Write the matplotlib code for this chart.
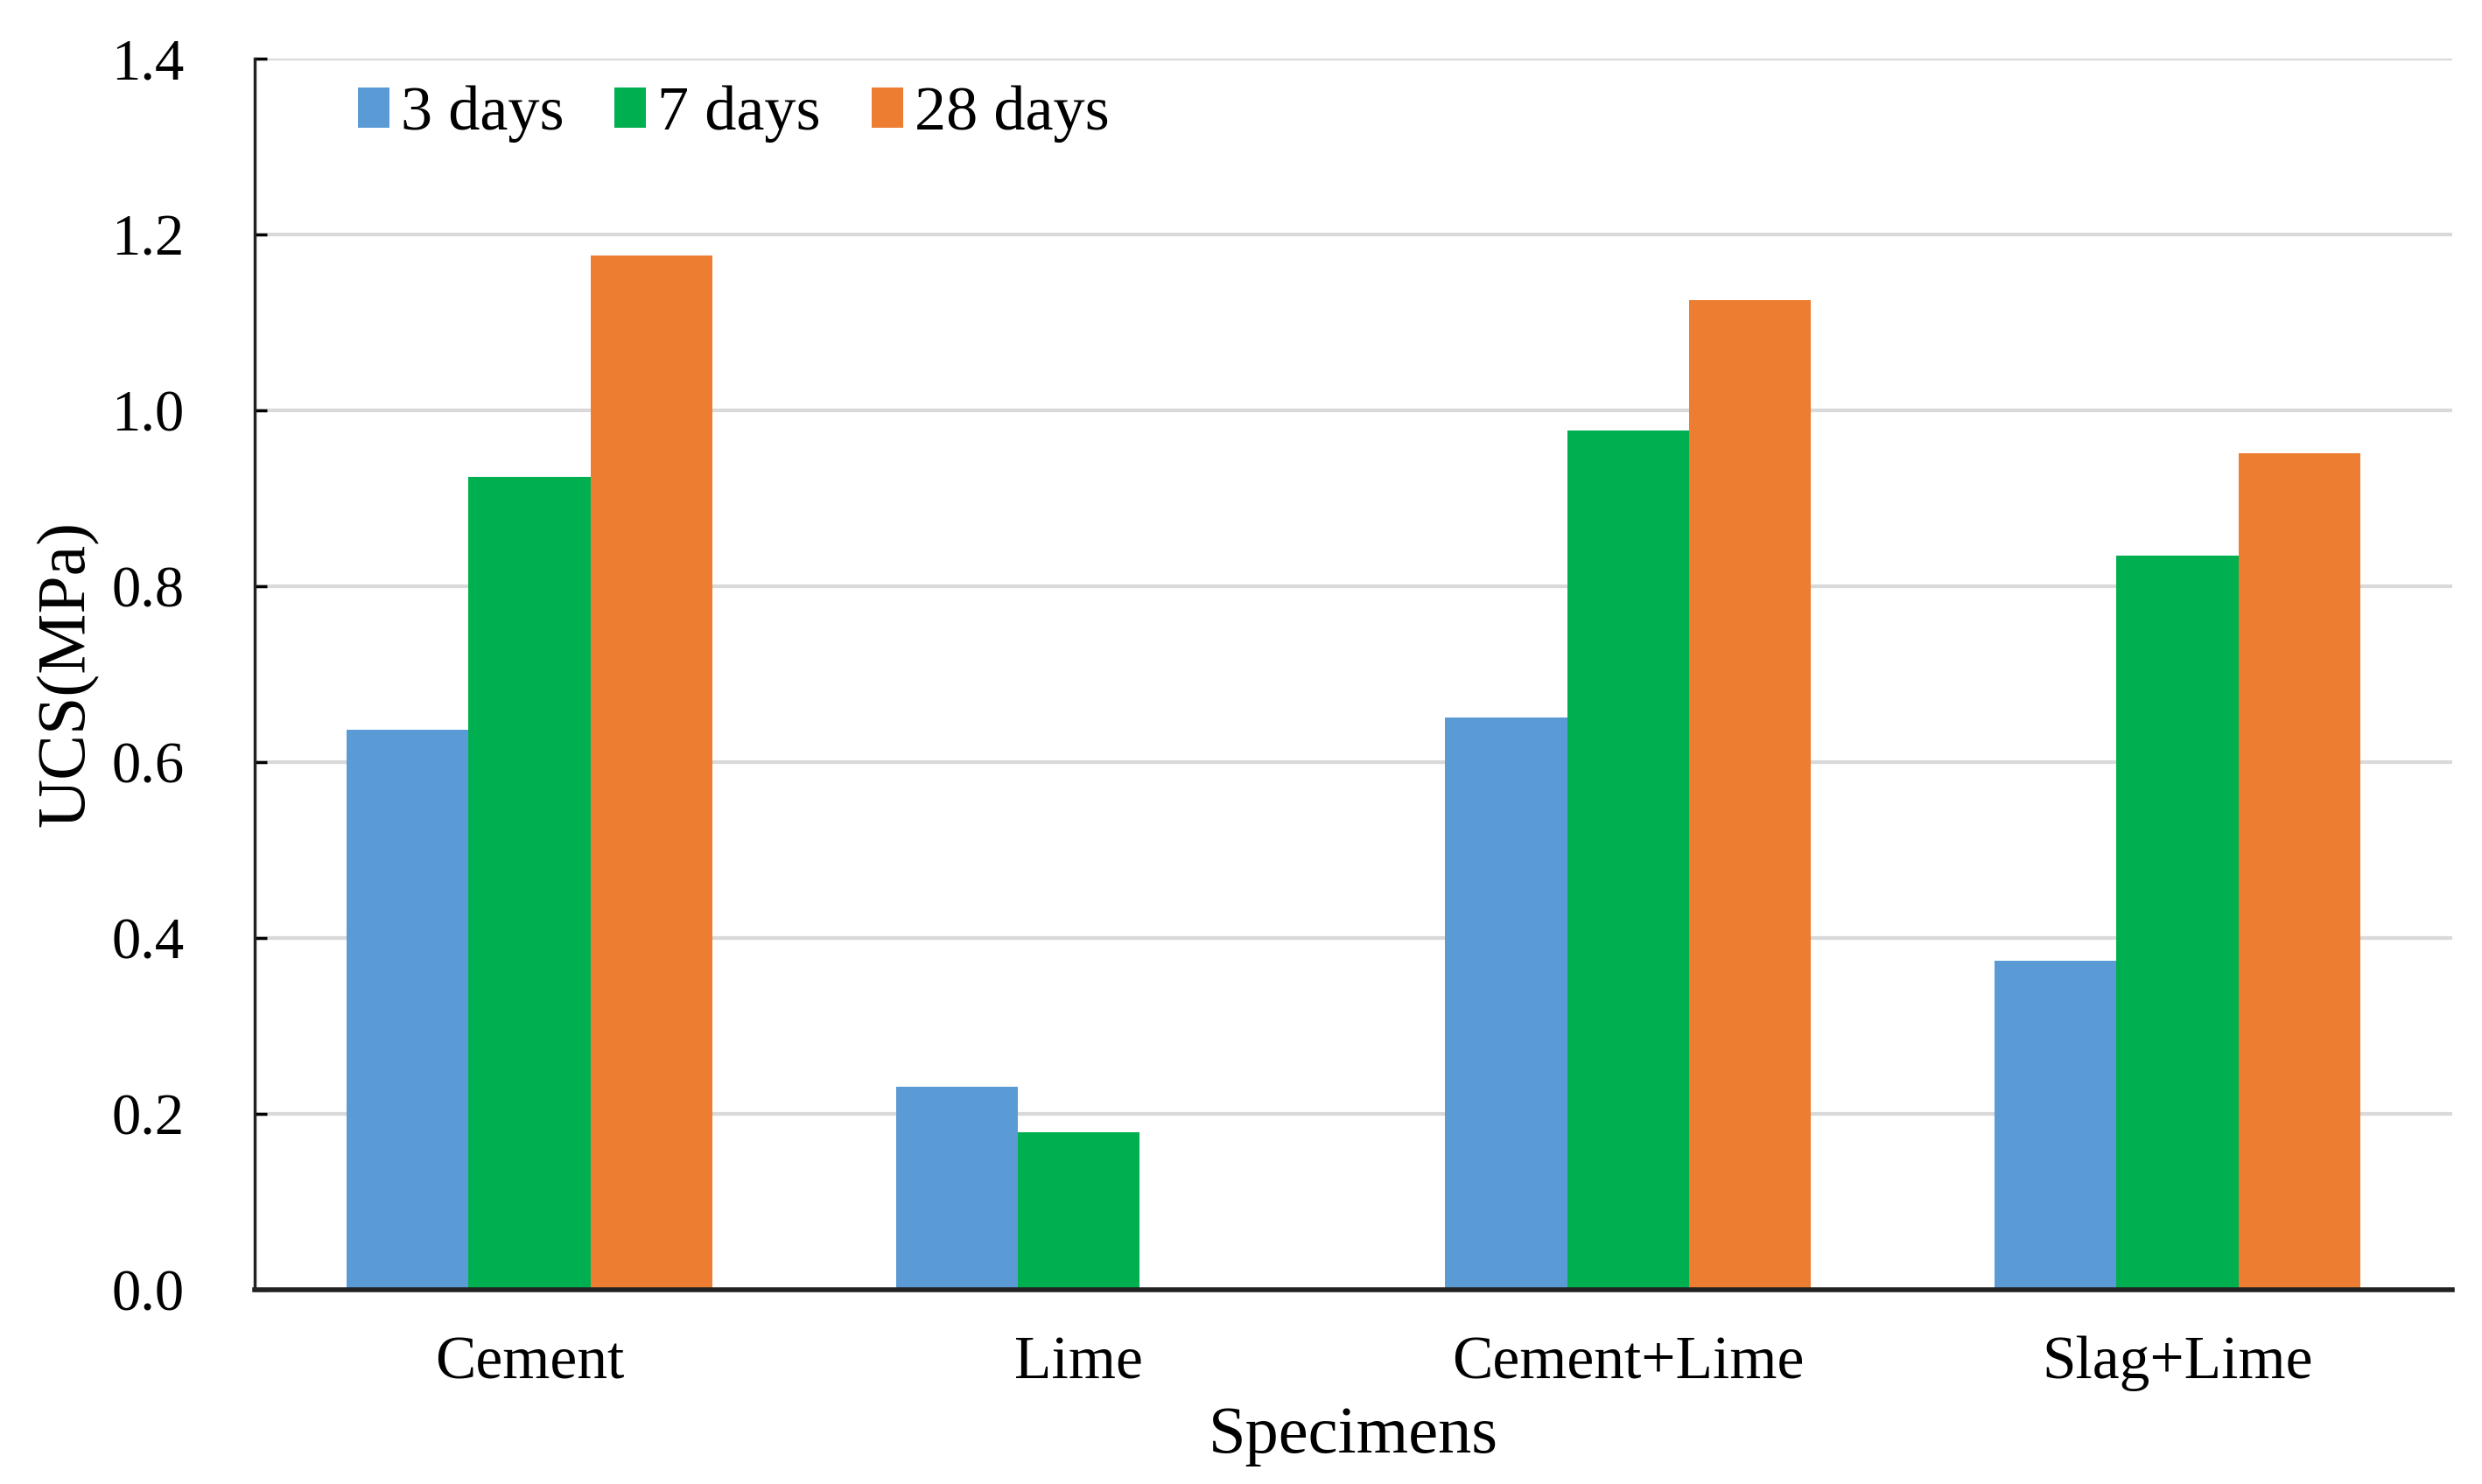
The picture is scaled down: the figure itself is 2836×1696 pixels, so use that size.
import numpy as np
import matplotlib
matplotlib.use("Agg")
import matplotlib.pyplot as plt

plt.rcParams['font.family'] = ['Liberation Serif', 'DejaVu Serif']

specimens = ["Cement", "Lime", "Cement+Lime", "Slag+Lime"]
series_names = ["3 days", "7 days", "28 days"]
ucs_3d = [0.637, 0.231, 0.651, 0.374]
ucs_7d = [0.924, 0.179, 0.977, 0.835]
ucs_28d = [1.176, np.nan, 1.125, 0.951]
colors = ["#5B9BD5", "#00B050", "#ED7D31"]

fig = plt.figure(figsize=(28.36, 16.96), dpi=100)
ax = fig.add_axes([0.1026, 0.1309, 0.8854, 0.8296])

x = np.arange(len(specimens))
w = 0.222
for i, (vals, name) in enumerate(zip([ucs_3d, ucs_7d, ucs_28d], series_names)):
    ax.bar(x + (i - 1) * w, vals, width=w, color=colors[i], label=name, zorder=2)

ax.set_xlim(-0.5, 3.5)
ax.set_ylim(0, 1.4)
ax.set_yticks(np.arange(0, 1.41, 0.2))
ax.set_yticklabels(["%.1f" % v for v in np.arange(0, 1.41, 0.2)])
ax.set_xticks(x)
ax.set_xticklabels(specimens)

ax.grid(axis='y', color='#D9D9D9', linewidth=3, zorder=0)
ax.set_axisbelow(True)

for s in ['top', 'right']:
    ax.spines[s].set_visible(False)
ax.spines['left'].set_linewidth(2.5)
ax.spines['bottom'].set_linewidth(4)
ax.spines['left'].set_color('#222222')
ax.spines['bottom'].set_color('#222222')

ax.tick_params(axis='y', direction='in', length=10, width=2.5, labelsize=48, pad=58)
ax.tick_params(axis='x', direction='in', length=20, width=2.5, labelsize=50, pad=38)

ax.set_xlabel("Specimens", fontsize=55, labelpad=12)
ax.set_ylabel("UCS(MPa)", fontsize=56)
ax.yaxis.set_label_coords(-0.071, 0.5)

ax.legend(loc='center left', bbox_to_anchor=(0.021, 0.955), ncol=3, frameon=False,
          fontsize=52, handlelength=0.5, handleheight=0.6, handletextpad=0.18,
          columnspacing=0.8)

fig.savefig("out.png", dpi=100)
